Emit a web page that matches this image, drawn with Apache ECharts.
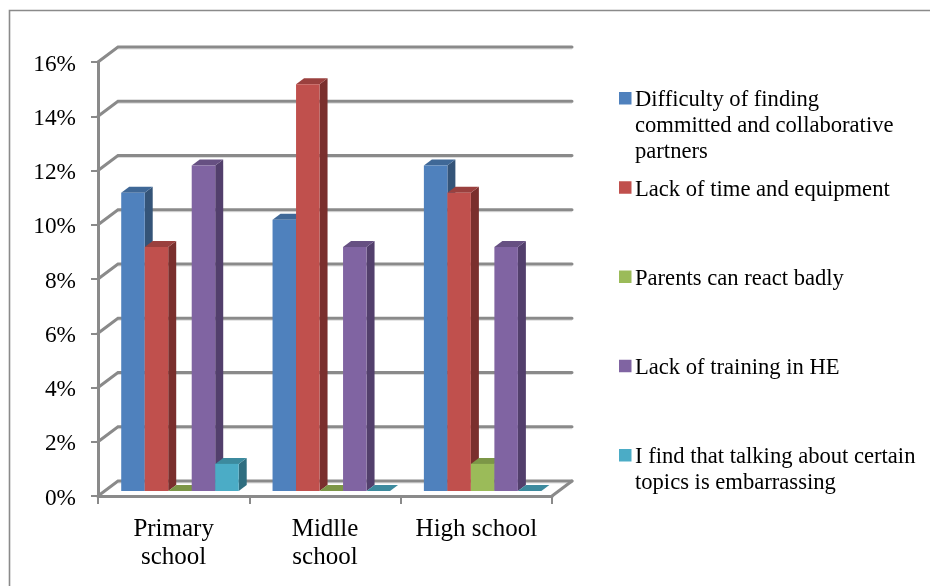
<!DOCTYPE html>
<html>
<head>
<meta charset="utf-8">
<style>html,body{margin:0;padding:0;background:#fff}#c{width:930px;height:586px}</style>
<script src="https://cdn.jsdelivr.net/npm/echarts@6/dist/echarts.min.js"></script>
</head>
<body>
<div id="c"></div>
<script>
const categories = ["Primary\nschool", "Midlle\nschool", "High school"];
const seriesNames = [
  "Difficulty of finding\ncommitted and collaborative\npartners",
  "Lack of time and equipment",
  "Parents can react badly",
  "Lack of training in HE",
  "I find that talking about certain\ntopics is embarrassing"
];
const difficulty = [11, 10, 12];
const lackTime = [9, 15, 11];
const parents = [0, 0, 1];
const training = [12, 9, 9];
const embarrassing = [1, 0, 0];
const yTicks = [0, 2, 4, 6, 8, 10, 12, 14, 16];
const colors = ["#4F81BD", "#C0504D", "#9BBB59", "#8064A2", "#4BACC6"];
const topColors = ["#3F6897", "#9A403E", "#7C9647", "#665082", "#3C8A9E"];
const sideColors = ["#345478", "#7A2F2D", "#5F7336", "#523F6C", "#2F6E80"];
const allValues = [difficulty, lackTime, parents, training, embarrassing];
const FONT = '"Liberation Serif", "Times New Roman", serif';
const GRID = "#8A8A8A";

const wallDX = 20, wallDY = -15;
const barW = 23.5, depthX = 8, depthY = -6;
const planeDX = 6.3, planeDY = -5;

function wallItem(params, api) {
  const v = api.value(1);
  const p = api.coord([0, v]);
  const cs = params.coordSys;
  const x0 = cs.x, x1 = cs.x + cs.width, y = p[1];
  const children = [{
    type: "line",
    shape: { x1: x0 + wallDX, y1: y + wallDY + 2, x2: x1 + wallDX, y2: y + wallDY + 2 },
    style: { stroke: "#DDDDDD", lineWidth: 1 }
  }, {
    type: "polyline",
    shape: { points: [[x0, y], [x0 + wallDX, y + wallDY], [x1 + wallDX, y + wallDY]] },
    style: { fill: null, stroke: GRID, lineWidth: 3, lineCap: "round" }
  }];
  if (v === 0) {
    children.push({
      type: "line",
      shape: { x1: x1, y1: y, x2: x1 + wallDX, y2: y + wallDY },
      style: { stroke: GRID, lineWidth: 3, lineCap: "round" }
    });
  }
  return { type: "group", children };
}

function barItem(si) {
  return function (params, api) {
    const c = api.coord([api.value(0), api.value(1)]);
    const b = api.coord([api.value(0), 0]);
    const left = c[0] + planeDX + (si - 2.5) * barW;
    const right = left + barW;
    const top = c[1] + planeDY;
    const bottom = b[1] + planeDY;
    const h = bottom - top;
    const children = [];
    children.push({
      type: "polygon",
      shape: { points: [[right, top], [right + depthX, top + depthY], [right + depthX, bottom + depthY], [right, bottom]] },
      style: { fill: sideColors[si] }
    });
    children.push({
      type: "polygon",
      shape: { points: [[left, top], [left + depthX, top + depthY], [right + depthX, top + depthY], [right, top]] },
      style: { fill: topColors[si] }
    });
    if (h > 0.5) {
      children.push({
        type: "rect",
        shape: { x: left, y: top, width: barW, height: h },
        style: { fill: colors[si] }
      });
    }
    return { type: "group", children };
  };
}

const legendX = 619, legendTextX = 635, legendFirstY = 98, legendStep = 89.25;
const legendGraphics = [
  { type: "polyline", shape: { points: [[9.5, 586], [9.5, 10.5], [930, 10.5]] },
    style: { fill: null, stroke: "#8a8a8a", lineWidth: 1.6 } }
];
seriesNames.forEach((name, i) => {
  const cy = legendFirstY + i * legendStep;
  legendGraphics.push({ type: "rect", shape: { x: legendX, y: cy - 6, width: 12.5, height: 12.5 }, style: { fill: colors[i] } });
  legendGraphics.push({ type: "text", x: legendTextX, y: cy - 10.5,
    style: { text: name, font: '22.6px ' + FONT, lineHeight: 26, fill: "#000", verticalAlign: "top", textVerticalAlign: "top" } });
});

const chart = echarts.init(document.getElementById("c"), null, { renderer: "canvas" });
chart.setOption({
  animation: false,
  backgroundColor: "#fff",
  grid: { left: 98, top: 62, width: 454, height: 434, containLabel: false },
  xAxis: {
    type: "category",
    data: categories,
    boundaryGap: true,
    axisLine: { lineStyle: { color: GRID, width: 3 } },
    axisTick: { show: true, length: 8, alignWithLabel: false, lineStyle: { color: GRID, width: 2 } },
    axisLabel: { color: "#000", fontFamily: FONT, fontSize: 25, lineHeight: 28, margin: 19, interval: 0 }
  },
  yAxis: {
    type: "value",
    min: 0, max: 16, interval: 2,
    splitLine: { show: false },
    axisLine: { show: true, lineStyle: { color: GRID, width: 3 } },
    axisTick: { show: true, length: 7, lineStyle: { color: GRID, width: 2 } },
    axisLabel: {
      color: "#000", fontFamily: FONT, fontSize: 23.3, margin: 22,
      formatter: "{a|{value}%}",
      rich: { a: { color: "#000", fontFamily: FONT, fontSize: 23.3, padding: [5, 0, 0, 0] } }
    }
  },
  graphic: legendGraphics,
  series: [
    { type: "custom", name: "wall", silent: true, z: 1, renderItem: wallItem,
      encode: { x: 0, y: 1 }, data: yTicks.map(v => [0, v]) }
  ].concat(allValues.map((vals, si) => ({
    type: "custom",
    name: seriesNames[si],
    z: 2 + si,
    renderItem: barItem(si),
    encode: { x: 0, y: 1 },
    data: vals.map((v, i) => [i, v])
  })))
});
</script>
</body>
</html>
